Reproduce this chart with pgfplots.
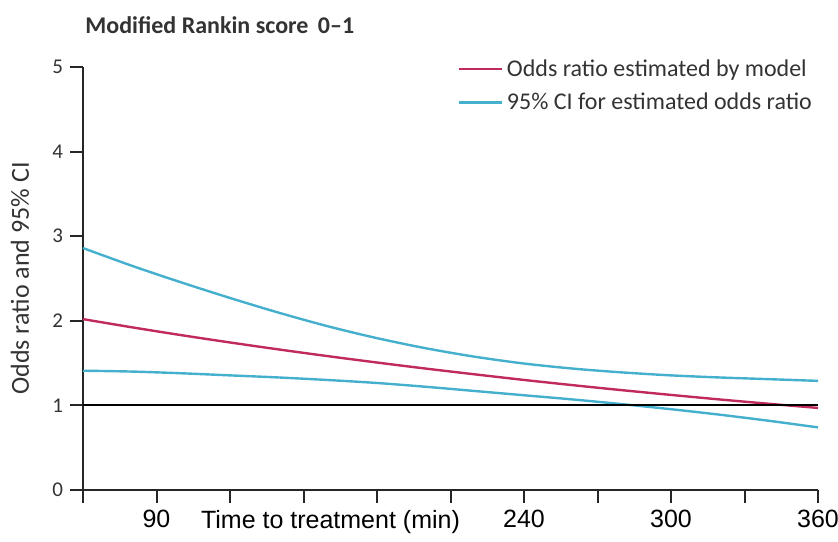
\documentclass[border=0pt]{standalone}
\usepackage{pgfplots}
\pgfplotsset{compat=1.18}
\usepackage{fontspec}
\setmainfont{Carlito}
\newfontfamily\arialf{Liberation Sans}
\definecolor{orred}{HTML}{C02A5C}
\definecolor{ciblue}{HTML}{45AFCE}
\definecolor{txt}{HTML}{333333}
\begin{document}
\begin{tikzpicture}
\useasboundingbox (-41.5pt,-25.5pt) rectangle (377.5pt,245pt);
\begin{axis}[
  name=ax,
  at={(0,0)}, anchor=south west,
  scale only axis,
  width=367.5pt, height=211.5pt,
  xmin=60, xmax=360, ymin=0, ymax=5,
  axis x line=bottom, axis y line=left,
  axis line style={-, line width=1pt, black!85},
  tick align=outside,
  major tick length=6.5pt,
  tick style={line width=1pt, black!85},
  xtick={60,90,...,360},
  xticklabels={,90,,,,,240,,300,,360},
  extra x ticks={161},
  extra x tick labels={Time to treatment (min)},
  extra x tick style={tick style={draw=none}},
  xticklabel style={font=\fontsize{12.5}{14}\arialf, text=black},
  ytick={0,1,2,3,4,5},
  yticklabels={0,1,2,3,4,5},
  yticklabel style={font=\fontsize{10.5}{12}\selectfont, text=txt},
  /pgf/number format/assume math mode=true,
  legend style={draw=none, fill=none, at={(rel axis cs:0.509,1)}, anchor=north west,
    font=\fontsize{12}{14}\selectfont, text=txt, inner xsep=0pt, inner ysep=0pt, row sep=2.8pt,
    yshift=6pt},
  legend cell align=left,
  legend image code/.code={\draw[#1] (0pt,0pt) -- (21.5pt,0pt);},
  clip=false,
]
\addplot[orred, line width=1.2pt, smooth] coordinates {
(60,2.02) (80,1.923) (100,1.831) (120,1.744) (140,1.661) (160,1.582) (180,1.507) (200,1.435)
(220,1.367) (240,1.301) (260,1.239) (280,1.180) (300,1.124) (320,1.070) (340,1.019) (360,0.970)};
\addlegendentry{Odds ratio estimated by model}
\addplot[ciblue, line width=1.2pt, smooth] coordinates {
(60,2.86) (80,2.65) (100,2.455) (120,2.27) (140,2.095) (160,1.935) (180,1.795) (200,1.675)
(220,1.575) (240,1.495) (260,1.435) (280,1.39) (300,1.355) (320,1.33) (340,1.31) (360,1.29)};
\addlegendentry{95\% CI for estimated odds ratio}
\addplot[ciblue, line width=1.2pt, smooth, forget plot] coordinates {
(60,1.41) (80,1.40) (100,1.38) (120,1.355) (140,1.33) (160,1.30) (180,1.265) (200,1.22)
(220,1.17) (240,1.12) (260,1.07) (280,1.015) (300,0.955) (320,0.89) (340,0.818) (360,0.74)};
\addplot[black, line width=1pt, forget plot] coordinates {(60,1) (360,1)};
\end{axis}
\node[anchor=base west, inner sep=0pt, font=\fontsize{12}{14}\selectfont\bfseries, text=txt] at (1pt,228pt) {Modified Rankin score\, 0–1};
\node[rotate=90, anchor=center, font=\fontsize{13}{15}\selectfont, text=txt] at (-31.5pt,105.75pt) {Odds ratio and 95\% CI};
\end{tikzpicture}
\end{document}
